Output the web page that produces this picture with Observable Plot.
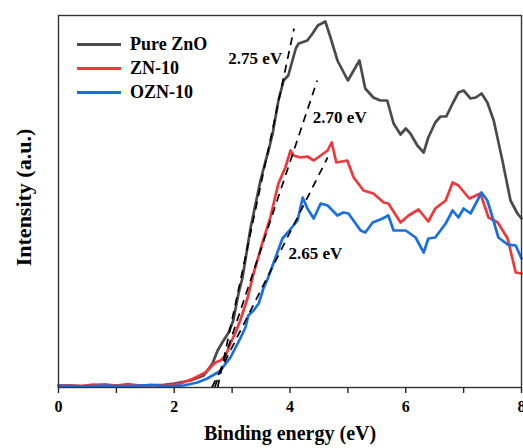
<!DOCTYPE html>
<html>
<head>
<meta charset="utf-8">
<script src="https://cdn.jsdelivr.net/npm/d3@7"></script>
<script src="https://cdn.jsdelivr.net/npm/@observablehq/plot@0.6"></script>
<style>
  html, body { margin: 0; padding: 0; background: #fff; }
  #wrap { position: relative; width: 523px; height: 448px; }
  .legend { position: absolute; left: 77px; top: 32px; font-family: "Liberation Serif", "Times New Roman", serif; font-weight: bold; font-size: 18px; color: #000; }
  .legend .row { display: flex; align-items: center; height: 24px; }
  .legend .sw { width: 44px; height: 3px; margin-right: 9px; }
</style>
</head>
<body>
<div id="wrap"></div>
<script>
// ---- Data ----
const seriesNames = ["Pure ZnO", "ZN-10", "OZN-10"];
const seriesColors = ["#4a4a4a", "#f0383c", "#1a6fe0"];

const pureX = [0,0.2,0.4,0.6,0.8,1.0,1.2,1.4,1.6,1.8,2.0,2.28,2.51,2.66,2.75,2.83,2.94,3.02,3.11,3.18,3.32,3.49,3.58,3.63,3.70,3.80,3.89,3.97,4.10,4.15,4.30,4.39,4.48,4.58,4.61,4.70,4.82,5.00,5.20,5.30,5.44,5.56,5.68,5.79,5.91,6.00,6.08,6.20,6.31,6.39,6.51,6.60,6.70,6.81,6.91,7.00,7.12,7.21,7.31,7.41,7.52,7.67,7.81,7.93,8.00];
const pureY = [2,2,1.5,2,3,2,2,2,2.5,2.5,4,7,12,24,37,45,55,67,94,110,160,207,227,237,254,287,307,312,339,344,347,354,362,365,366,350,327,307,327,299,290,287,287,264,253,259,254,242,235,250,265,271,271,284,295,297,289,290,294,285,267,227,187,174,169];

const znX = [0,0.2,0.4,0.6,0.8,1.0,1.2,1.4,1.6,1.8,2.0,2.11,2.33,2.54,2.71,2.80,2.89,2.97,3.06,3.14,3.27,3.37,3.52,3.66,3.80,3.92,4.01,4.06,4.18,4.30,4.41,4.53,4.65,4.72,4.80,4.99,5.10,5.27,5.44,5.62,5.70,5.91,6.05,6.22,6.39,6.51,6.69,6.81,6.91,7.10,7.29,7.43,7.59,7.76,7.90,8.00];
const znY = [2,2,1.5,3,2.5,2,3.5,2,2,2,3,4,9,15,25,27,32,44,55,67,90,114,144,170,204,220,237,232,230,231,227,232,237,245,225,227,210,197,194,185,184,165,172,178,166,179,187,205,202,189,194,170,165,149,115,114];

const oznX = [0,0.2,0.4,0.6,0.8,1.0,1.2,1.4,1.6,1.8,2.0,2.16,2.40,2.57,2.75,2.80,2.89,2.97,3.06,3.14,3.23,3.28,3.37,3.46,3.54,3.61,3.75,3.87,3.96,4.06,4.13,4.22,4.30,4.41,4.53,4.65,4.82,4.92,5.01,5.22,5.30,5.43,5.60,5.70,5.79,6.00,6.17,6.31,6.39,6.51,6.69,6.81,6.91,7.00,7.12,7.31,7.41,7.50,7.60,7.76,7.90,8.00];
const oznY = [1.5,1.5,1,1.5,2,1.5,1.5,2,2.5,1.5,1.5,2,5,9,15,17,24,30,40,49,60,72,77,84,99,108,130,149,155,162,167,190,179,169,184,182,172,175,174,157,155,165,169,172,157,157,150,135,149,150,164,177,170,179,174,195,187,170,150,143,142,129];

// Tangent (onset) lines: x-intercept, x and y at the top end
const onsetValues = [2.75, 2.70, 2.65];
const onsetTopX = [4.07, 4.47, 4.65];
const onsetTopY = [359, 307, 230];
const onsetLabels = ["2.75 eV", "2.70 eV", "2.65 eV"];
const labelX = [3.40, 4.86, 4.44];
const labelY = [329, 270, 134];

const xTicks = [0,1,2,3,4,5,6,7,8];

// ---- Build tables ----
const curves = [];
[[pureX, pureY], [znX, znY], [oznX, oznY]].forEach(([xs, ys], i) => {
  xs.forEach((x, j) => curves.push({series: seriesNames[i], x, y: ys[j]}));
});
const onsets = onsetValues.map((v, i) => ({id: i, x1: v, y1: 0, x2: onsetTopX[i], y2: onsetTopY[i]}));
const labels = onsetLabels.map((t, i) => ({text: t, x: labelX[i], y: labelY[i]}));

const serif = "'Liberation Serif', 'Times New Roman', serif";

const chart = Plot.plot({
  width: 523,
  height: 448,
  marginLeft: 58,
  marginRight: 2,
  marginTop: 15,
  marginBottom: 61,
  style: {fontFamily: serif, fontWeight: "bold", fontSize: "16px", background: "#fff", color: "#000"},
  x: {domain: [0, 8]},
  y: {domain: [0, 372], axis: null},
  color: {domain: seriesNames, range: seriesColors},
  marks: [
    Plot.line(curves, {x: "x", y: "y", z: "series", stroke: "series", strokeWidth: 2.7, strokeLinejoin: "round"}),
    Plot.link(onsets, {x1: "x1", y1: "y1", x2: "x2", y2: "y2", stroke: "#000", strokeWidth: 1.7, strokeDasharray: "8,6"}),
    Plot.text(labels, {x: "x", y: "y", text: "text", fontSize: 17, fontWeight: "bold", fill: "#000"}),
    Plot.axisX({ticks: xTicks, tickSize: 6, tickPadding: 7, stroke: "#222", strokeWidth: 1.4,
      tickFormat: d => (d % 2 === 0 ? String(d) : ""), fontSize: 16, fontWeight: "bold", label: null}),
    Plot.frame({stroke: "#333", strokeWidth: 1.4}),
    Plot.text(["Binding energy (eV)"], {frameAnchor: "bottom", dy: 52, fontSize: 20, fontWeight: "bold", fill: "#000"}),
    Plot.text(["Intensity (a.u.)"], {frameAnchor: "left", textAnchor: "middle", dx: -35, dy: -4, rotate: -90, fontSize: 22, fontWeight: "bold", fill: "#000"})
  ]
});

const wrap = document.getElementById("wrap");
wrap.appendChild(chart);

const legend = document.createElement("div");
legend.className = "legend";
seriesNames.forEach((n, i) => {
  const row = document.createElement("div");
  row.className = "row";
  const sw = document.createElement("div");
  sw.className = "sw";
  sw.style.background = seriesColors[i];
  const lab = document.createElement("span");
  lab.textContent = n;
  row.appendChild(sw);
  row.appendChild(lab);
  legend.appendChild(row);
});
wrap.appendChild(legend);
</script>
</body>
</html>
